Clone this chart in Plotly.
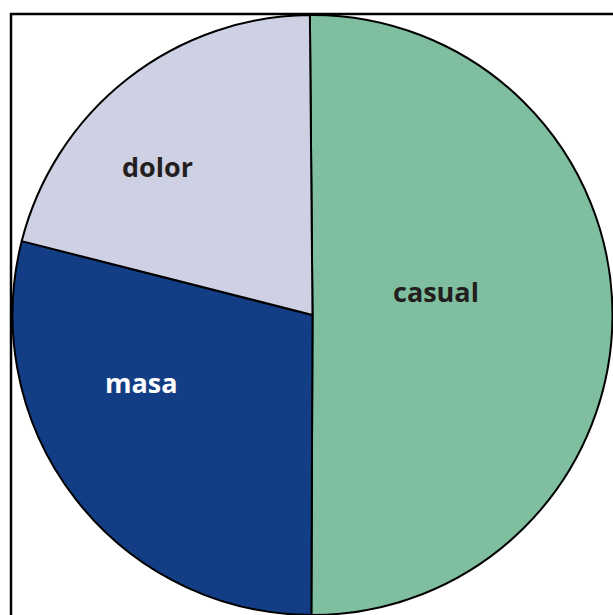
import plotly.graph_objects as go

labels = ["casual", "masa", "dolor"]
values = [50.2, 28.9, 20.9]
colors = ["#7fbf9f", "#133d85", "#ced1e3"]
text_colors = ["#231f20", "#ffffff", "#231f20"]
# label anchor positions (paper fraction of the plot area)
label_x = [0.7055, 0.2163, 0.2429]
label_y = [0.5400, 0.3883, 0.7480]

W, H = 613, 615
ml, mt, mr, mb = 12, 15, 0, 0

fig = go.Figure(go.Pie(
    labels=labels,
    values=values,
    sort=False,
    direction="clockwise",
    rotation=-0.5,
    marker=dict(colors=colors, line=dict(color="#000000", width=2)),
    textinfo="none",
    showlegend=False,
    hoverinfo="label+percent",
))

pw, ph = W - ml - mr, H - mt - mb
annotations = [
    dict(x=x, y=y, xref="paper", yref="paper", text=t, showarrow=False,
         xanchor="center", yanchor="middle",
         font=dict(family="Open Sans", size=27, color=c, weight="bold"))
    for t, x, y, c in zip(labels, label_x, label_y, text_colors)
]
fig.update_layout(
    width=W, height=H,
    margin=dict(l=ml, r=mr, t=mt, b=mb, pad=0),
    paper_bgcolor="#ffffff",
    plot_bgcolor="#ffffff",
    annotations=annotations,
    shapes=[dict(
        type="rect", xref="paper", yref="paper",
        x0=-1.0 / pw, x1=1.1, y0=-0.1, y1=1 + 1.0 / ph,
        line=dict(color="#000000", width=2.5), fillcolor="rgba(0,0,0,0)",
        layer="below",
    )],
)
fig.write_html(
    "out.html",
    config={"displayModeBar": False},
    post_script="document.body.style.margin='0';document.documentElement.style.overflow='hidden';document.body.style.overflow='hidden';",
)
